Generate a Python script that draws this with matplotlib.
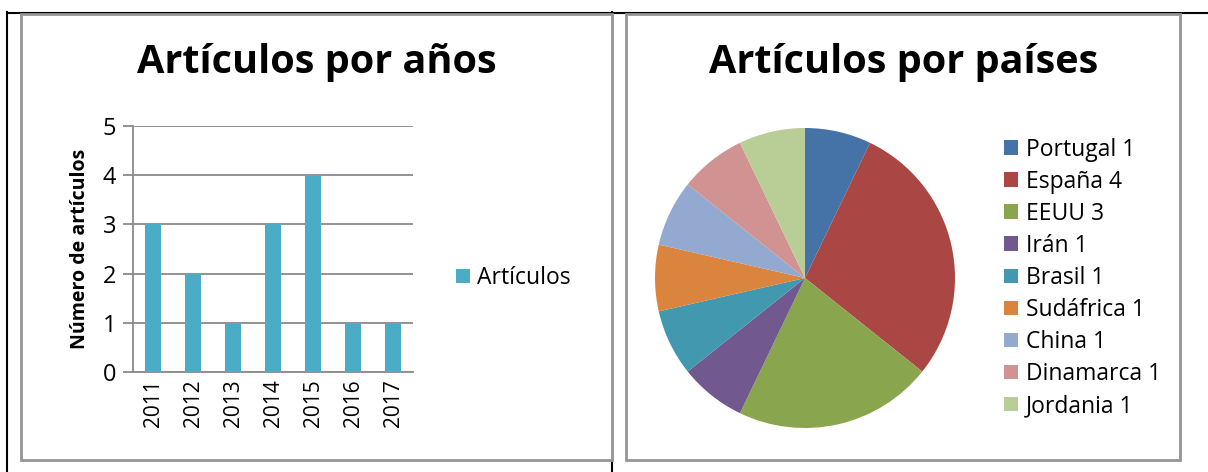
import matplotlib
matplotlib.use("Agg")
import matplotlib.pyplot as plt
from matplotlib.patches import Rectangle
from matplotlib.lines import Line2D

years = ["2011", "2012", "2013", "2014", "2015", "2016", "2017"]
articles = [3, 2, 1, 3, 4, 1, 1]
yticks = [0, 1, 2, 3, 4, 5]

countries = ["Portugal", "España", "EEUU", "Irán", "Brasil", "Sudáfrica", "China", "Dinamarca", "Jordania"]
country_counts = [1, 4, 3, 1, 1, 1, 1, 1, 1]
pie_colors = ["#4572A7", "#AA4643", "#89A54E", "#71588F", "#4198AF",
              "#DB843D", "#93A9CF", "#D19392", "#B9CD96"]
bar_color = "#4BACC6"

W, H = 1208, 472
plt.rcParams['font.family'] = ['Open Sans', 'DejaVu Sans']
fig = plt.figure(figsize=(W / 100, H / 100), dpi=100)
fig.patch.set_facecolor("white")

def fx(x):
    return x / W

def fy(y):
    return 1 - y / H

def rect(x0, y0, x1, y1):
    return [fx(x0), fy(y1), fx(x1) - fx(x0), fy(y0) - fy(y1)]

# table borders (black)
for xs_, ys_ in [([7, 1208], [12.5, 12.5]), ([7.5, 7.5], [12, 472]), ([612, 612], [12, 472])]:
    fig.add_artist(Line2D([fx(v) for v in xs_], [fy(v) for v in ys_], color="black",
                          lw=1.5, transform=fig.transFigure, zorder=0.5))

# chart frames (gray)
frame_col = "#959595"
for (x0, y0, x1, y1) in [(21, 14, 612, 460), (626, 14, 1180, 460)]:
    fig.add_artist(Rectangle((fx(x0), fy(y1)), fx(x1) - fx(x0), fy(y0) - fy(y1),
                             transform=fig.transFigure, facecolor="white",
                             edgecolor=frame_col, lw=2, zorder=1))

# ---------------- bar chart ----------------
grid_col = "#8A8A8A"
ax = fig.add_axes(rect(133, 126, 413, 372))
ax.set_zorder(2)
xs = list(range(len(years)))
bars = ax.bar(xs, articles, width=0.4, color=bar_color, zorder=3, label="Artículos")
ax.set_xlim(-0.5, len(years) - 0.5)
ax.set_ylim(0, 5)
ax.set_yticks(yticks)
ax.set_yticklabels([str(v) for v in yticks], fontsize=17)
ax.set_xticks(xs)
ax.set_xticklabels(years, rotation=90, fontsize=15)
ax.tick_params(axis="y", length=7, color=grid_col, width=1.3, pad=5)
ax.tick_params(axis="x", length=0, pad=5)
ax.yaxis.grid(True, color=grid_col, lw=1.3, zorder=0)
ax.set_axisbelow(True)
for s in ["top", "right"]:
    ax.spines[s].set_visible(False)
for s in ["left", "bottom"]:
    ax.spines[s].set_color(grid_col)
    ax.spines[s].set_linewidth(1.3)
ax.set_facecolor("none")
ax.set_ylabel("Número de artículos", fontsize=14, fontweight="bold", labelpad=9)
fig.text(fx(317), fy(73), "Artículos por años", fontsize=28.5, fontweight="bold",
         ha="center", va="baseline", zorder=5)
ax.legend(handles=[bars], labels=["Artículos"], loc="center left",
          bbox_to_anchor=(fx(456), fy(278)), bbox_transform=fig.transFigure,
          frameon=False, fontsize=16.5, handlelength=0.62, handleheight=0.62,
          handletextpad=0.3, borderaxespad=0, borderpad=0)

# ---------------- pie chart ----------------
cx, cy, r = 805, 278, 150
pax = fig.add_axes(rect(cx - r, cy - r, cx + r, cy + r))
pax.set_zorder(2)
wedges, _ = pax.pie(country_counts, colors=pie_colors, startangle=90,
                    counterclock=False, radius=1)
pax.set_xlim(-1, 1)
pax.set_ylim(-1, 1)
pax.set_aspect("equal")
pax.axis("off")
fig.text(fx(904), fy(73), "Artículos por países", fontsize=28.5, fontweight="bold",
         ha="center", va="baseline", zorder=5)
labels = [f"{c} {n}" for c, n in zip(countries, country_counts)]
pax.legend(wedges, labels, loc="center left",
           bbox_to_anchor=(fx(1004), fy(278)), bbox_transform=fig.transFigure,
           frameon=False, fontsize=16.5, handlelength=0.62, handleheight=0.62,
           handletextpad=0.32, labelspacing=0.35, borderaxespad=0, borderpad=0)

fig.savefig("out.png", dpi=100, facecolor="white")
